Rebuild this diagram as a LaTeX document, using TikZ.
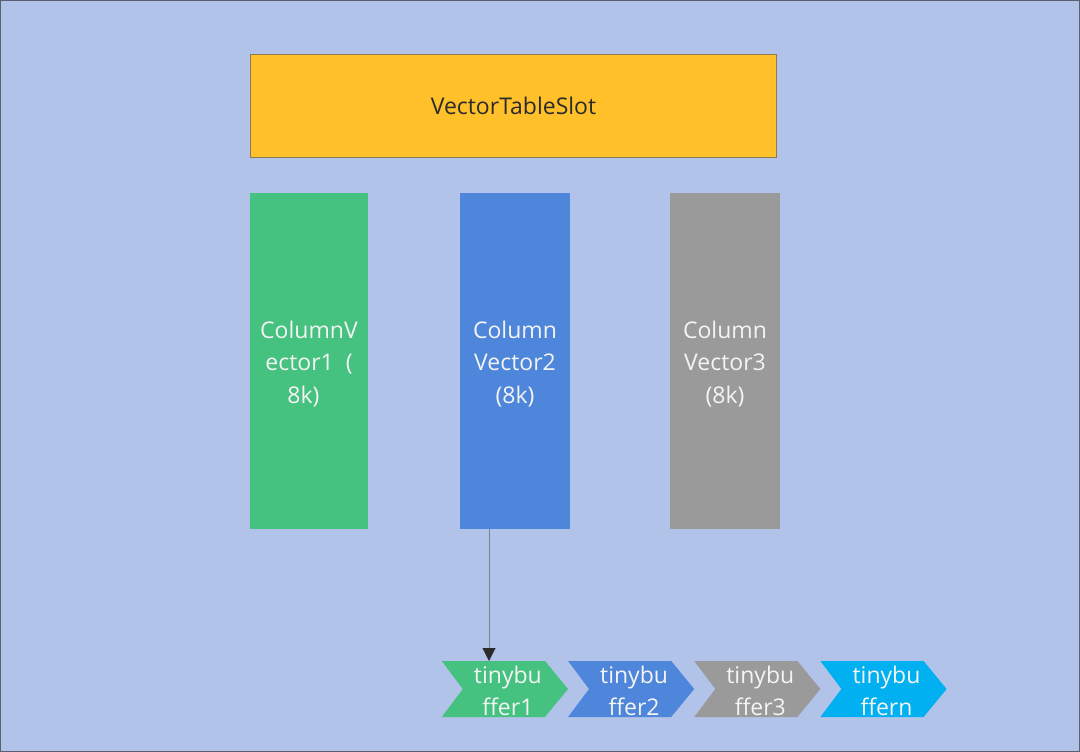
\documentclass[tikz,border=0pt]{standalone}
\usepackage{fontspec}
\setmainfont{Open Sans}
\usetikzlibrary{arrows.meta}
\pgfdeclarelayer{bg}
\pgfsetlayers{bg,main}
\definecolor{bgblue}{HTML}{B2C3EA}
\definecolor{frame}{HTML}{5A6070}
\definecolor{slotyellow}{HTML}{FFC02A}
\definecolor{slotedge}{HTML}{8C7B4E}
\definecolor{cgreen}{HTML}{45C180}
\definecolor{cblue}{HTML}{4E86DB}
\definecolor{cgray}{HTML}{9A9A9A}
\definecolor{ccyan}{HTML}{00B0F0}
\definecolor{txtwhite}{HTML}{F4F4F4}
\definecolor{txtdark}{HTML}{2B2B2B}
\definecolor{linegray}{HTML}{7A8090}
\tikzset{
  every node/.style={inner sep=0pt, outer sep=0pt},
  slotbox/.style={draw=slotedge, line width=0.8pt, fill=slotyellow, minimum width=526pt, minimum height=103pt},
  lbl/.style={text=#1, align=center, font=\fontsize{23}{32.4}\selectfont},
  colbox/.style={minimum width=#1, minimum height=336pt},
  chevbox/.style={minimum width=126.2pt, minimum height=56pt},
  conn/.style={draw=linegray, line width=1pt, -{Triangle[length=13pt, width=13pt, color=txtdark]}}
}
\newcommand{\chevronfill}[2]{%
  \begin{pgfonlayer}{bg}
    \fill[#2] (#1.north west) -- ([xshift=-23pt]#1.north east) -- (#1.east) -- ([xshift=-23pt]#1.south east) -- (#1.south west) -- ([xshift=21pt]#1.west) -- cycle;
  \end{pgfonlayer}}
\begin{document}
\begin{tikzpicture}[x=1pt, y=-1pt]
\begin{pgfonlayer}{bg}
\fill[bgblue] (0,0) rectangle (1080,752);
\draw[frame, line width=1.2pt] (0.6,0.6) rectangle (1079.4,751.4);
\end{pgfonlayer}
\useasboundingbox (0,0) rectangle (1080,752);

\node[slotbox] (slot) at (513.5,105.5) {};
\node[lbl=txtdark] (slottext) at (513.5,106) {VectorTableSlot};

\node[colbox=118pt, fill=cgreen] (c1) at (309,361) {};
\node[colbox=110pt, fill=cblue] (c2) at (515,361) {};
\node[colbox=110pt, fill=cgray] (c3) at (725,361) {};
\node[lbl=txtwhite] (t1) at (309,364) {ColumnV\\ector1\ \ (\\\hspace*{-11pt}8k)};
\node[lbl=txtwhite] (t2) at (515,364) {Column\\Vector2\\(8k)};
\node[lbl=txtwhite] (t3) at (725,364) {Column\\Vector3\\(8k)};

\node[chevbox] (b1) at (504.9,689) {};
\node[chevbox] (b2) at (631.1,689) {};
\node[chevbox] (b3) at (757.3,689) {};
\node[chevbox] (b4) at (883.5,689) {};
\chevronfill{b1}{cgreen}
\chevronfill{b2}{cblue}
\chevronfill{b3}{cgray}
\chevronfill{b4}{ccyan}
\node[lbl=txtwhite] (l1) at ([xshift=3pt, yshift=-2pt]b1.center) {tinybu\\ffer1};
\node[lbl=txtwhite] (l2) at ([xshift=3pt, yshift=-2pt]b2.center) {tinybu\\ffer2};
\node[lbl=txtwhite] (l3) at ([xshift=3pt, yshift=-2pt]b3.center) {tinybu\\ffer3};
\node[lbl=txtwhite] (l4) at ([xshift=3pt, yshift=-2pt]b4.center) {tinybu\\ffern};

\coordinate (a0) at ([xshift=29pt]c2.south west);
\draw[conn] (a0) -- (a0 |- b1.north);
\end{tikzpicture}
\end{document}
